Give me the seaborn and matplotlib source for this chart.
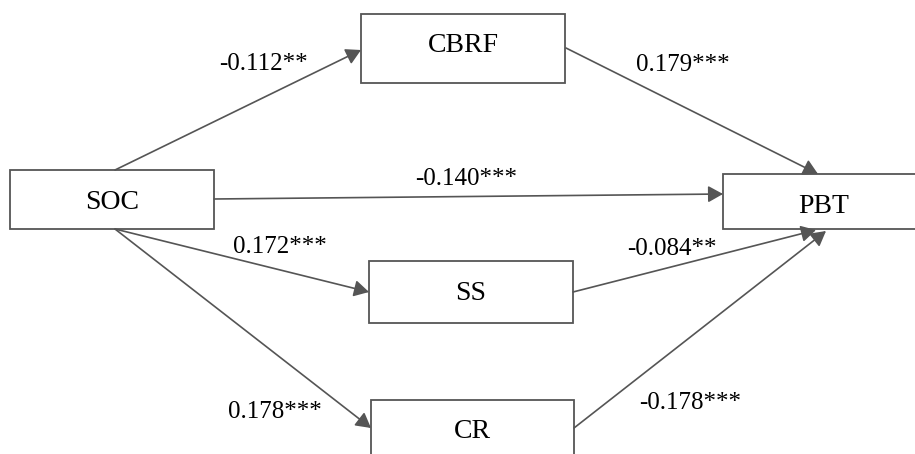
import matplotlib
matplotlib.use("Agg")
import matplotlib.pyplot as plt
from matplotlib.patches import Rectangle, FancyArrowPatch, ArrowStyle
import seaborn as sns

# ---- data ----
nodes = ["SOC", "CBRF", "PBT", "SS", "CR"]
path_from = ["SOC", "CBRF", "SOC", "SOC", "SS", "SOC", "CR"]
path_to = ["CBRF", "PBT", "PBT", "SS", "PBT", "CR", "PBT"]
coefs = [-0.112, 0.179, -0.140, 0.172, -0.084, 0.178, -0.178]
stars = ["**", "***", "***", "***", "**", "***", "***"]

# ---- layout (pixel coordinates, y downward) ----
boxes = {
    "SOC": (10, 170, 214, 229),
    "CBRF": (361, 14, 565, 83),
    "PBT": (723, 174, 918, 229),
    "SS": (369, 261, 573, 323),
    "CR": (371, 400, 574, 470),
}
node_text = {
    "SOC": (112, 209),
    "CBRF": (463, 52),
    "PBT": (824, 213),
    "SS": (471, 300),
    "CR": (472, 438),
}
arrow_pts = [
    ((115, 170), (361, 50)),
    ((566, 48), (818, 174)),
    ((214, 199), (723, 194)),
    ((115, 229), (369, 292)),
    ((573, 292), (816, 230)),
    ((115, 229), (371, 428)),
    ((574, 428), (826, 231)),
]
label_pos = [
    (263, 70),
    (683, 71),
    (466, 185),
    (280, 253),
    (672, 255),
    (275, 418),
    (690, 409),
]

sns.set_theme(style="white")
plt.rcParams["font.family"] = ["Liberation Serif", "DejaVu Serif"]

W, H = 915, 454
fig = plt.figure(figsize=(W / 100, H / 100), dpi=100)
ax = fig.add_axes([0, 0, 1, 1])
ax.set_xlim(0, W)
ax.set_ylim(H, 0)
ax.axis("off")

line_col = "#555555"
for name in nodes:
    x0, y0, x1, y1 = boxes[name]
    ax.add_patch(Rectangle((x0, y0), x1 - x0, y1 - y0, facecolor="white",
                           edgecolor=line_col, linewidth=1.3, zorder=2))
    tx, ty = node_text[name]
    ax.text(tx, ty, name, ha="center", va="baseline", fontsize=20,
            color="black", zorder=3)

style = ArrowStyle("-|>", head_length=9, head_width=5)
for (a, b), c, s, (lx, ly) in zip(arrow_pts, coefs, stars, label_pos):
    arr = FancyArrowPatch(a, b, arrowstyle=style, mutation_scale=1,
                          shrinkA=0, shrinkB=0, color=line_col,
                          linewidth=1.2, zorder=4)
    ax.add_patch(arr)
    ax.text(lx, ly, f"{c:.3f}{s}", ha="center", va="baseline", fontsize=18,
            color="black", zorder=5)

fig.savefig("out.png", dpi=100)
